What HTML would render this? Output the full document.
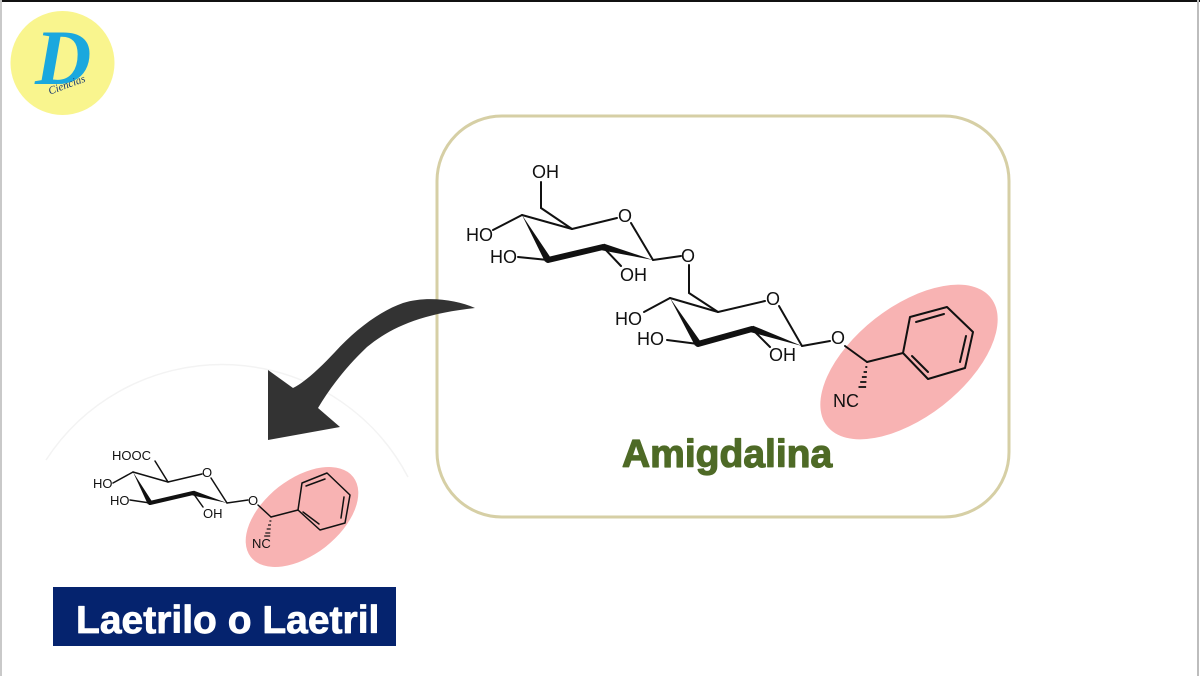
<!DOCTYPE html>
<html><head><meta charset="utf-8"><style>
html,body{margin:0;padding:0;background:#fff;overflow:hidden;}
svg{display:block;}
text{font-family:"Liberation Sans",Arial,sans-serif;}
</style></head><body>
<svg width="1200" height="676" viewBox="0 0 1200 676" xmlns="http://www.w3.org/2000/svg">
<rect x="0" y="0" width="1200" height="676" fill="#fff"/>
<!-- frame lines -->
<rect x="0" y="0" width="1200" height="2" fill="#111"/>
<rect x="0" y="0" width="2" height="676" fill="#c9c9c9"/>
<rect x="1197" y="0" width="2" height="676" fill="#bdbdbd"/>

<!-- logo -->
<circle cx="62.5" cy="63" r="52" fill="#f9f58e"/>
<text x="35" y="84" font-style="italic" font-weight="bold" font-size="78" fill="#1aa8de" style="font-family:'Liberation Serif',serif">D</text>
<text x="68" y="88" text-anchor="middle" font-style="italic" font-size="11" fill="#1a3a6e" transform="rotate(-20 68 88)" style="font-family:'Liberation Serif',serif">Ciencias</text>

<!-- faint arc behind laetrile -->
<path d="M46,460 A210,210 0 0 1 408,477" fill="none" stroke="#f3f3f3" stroke-width="1.5"/>

<!-- Amygdalin box -->
<rect x="437" y="116" width="572" height="401" rx="65" ry="65" fill="#fff" stroke="#d6cfa5" stroke-width="3"/>

<!-- pink ellipses -->
<ellipse cx="909" cy="362" rx="104" ry="55" fill="#f8b3b3" transform="rotate(-38 909 362)"/>
<ellipse cx="302" cy="517" rx="65" ry="38" fill="#f8b3b3" transform="rotate(-38 302 517)"/>

<!-- Amygdalin molecule -->
<g stroke="#111" stroke-width="2" fill="none" stroke-linecap="round">
  <!-- sugar 1 -->
  <line x1="541" y1="182" x2="541" y2="208"/>
  <line x1="541" y1="208" x2="572" y2="229"/>
  <line x1="522" y1="215" x2="572" y2="229"/>
  <line x1="572" y1="229" x2="617" y2="218"/>
  <line x1="631" y1="223" x2="653" y2="260"/>
  <line x1="493" y1="230" x2="522" y2="215"/>
  <line x1="518" y1="257" x2="548" y2="260"/>
  <line x1="603" y1="247" x2="621" y2="266"/>
  <line x1="653" y1="260" x2="681" y2="256"/>
  <line x1="689" y1="265" x2="689" y2="293"/>
  <line x1="689" y1="293" x2="718" y2="312"/>
  <!-- sugar 2 -->
  <line x1="670" y1="298" x2="718" y2="312"/>
  <line x1="718" y1="312" x2="765" y2="301"/>
  <line x1="779" y1="306" x2="802" y2="346"/>
  <line x1="644" y1="312" x2="670" y2="298"/>
  <line x1="667" y1="340" x2="698" y2="344"/>
  <line x1="752" y1="329" x2="770" y2="347"/>
  <line x1="802" y1="346" x2="830" y2="341"/>
  <!-- aglycone -->
  <line x1="845" y1="346" x2="867" y2="362"/>
  <line x1="867" y1="362" x2="903" y2="353"/>
  <polygon points="903,353 910,317 947,307 973,332 965,368 928,379" stroke-linejoin="round"/>
  <line x1="916" y1="322" x2="944" y2="314"/>
  <line x1="966" y1="336" x2="960" y2="362"/>
  <line x1="912" y1="356" x2="928" y2="372"/>
</g>
<g stroke="#111" stroke-width="6" stroke-linecap="round">
  <line x1="548" y1="260" x2="603" y2="247"/>
  <line x1="698" y1="344" x2="752" y2="329"/>
</g>
<g fill="#111">
  <polygon points="522,215 545,261.8 551,258.2"/>
  <polygon points="653,260 603.9,243.6 602.1,250.4"/>
  <polygon points="670,298 695,345.8 701,342.2"/>
  <polygon points="802,346 753.1,325.7 750.9,332.3"/>
</g>
<g stroke="#111" stroke-width="1.8">
  <line x1="865.3" y1="367" x2="867.3" y2="367"/>
  <line x1="863.6" y1="372" x2="867" y2="372"/>
  <line x1="861.9" y1="377" x2="866.7" y2="377"/>
  <line x1="860.2" y1="382" x2="866.4" y2="382"/>
  <line x1="858.5" y1="387" x2="866.1" y2="387"/>
</g>
<g font-size="18" fill="#111">
  <text x="532" y="178">OH</text>
  <text x="466" y="241">HO</text>
  <text x="490" y="263">HO</text>
  <text x="620" y="281">OH</text>
  <text x="625" y="222" text-anchor="middle">O</text>
  <text x="688" y="262" text-anchor="middle">O</text>
  <text x="773" y="305" text-anchor="middle">O</text>
  <text x="615" y="325">HO</text>
  <text x="637" y="345">HO</text>
  <text x="769" y="361">OH</text>
  <text x="838" y="344" text-anchor="middle">O</text>
  <text x="833" y="407">NC</text>
</g>

<text x="622" y="467" font-size="39" font-weight="bold" fill="#4e6a26" stroke="#4e6a26" stroke-width="1.2" stroke-linejoin="round">Amigdalina</text>

<!-- Arrow -->
<path d="M475,308 C455,299 425,296 403,303 C380,311 355,330 335,352 C320,368 305,382 293,388 L268,370 L268,440 L340,427 L318,408 C330,388 345,368 367,347 C390,328 420,314 475,308 Z" fill="#333"/>

<!-- Laetrile molecule -->
<g stroke="#111" stroke-width="1.5" fill="none" stroke-linecap="round">
  <line x1="155" y1="461" x2="168" y2="482"/>
  <line x1="133" y1="472" x2="168" y2="482"/>
  <line x1="168" y1="482" x2="202" y2="474"/>
  <line x1="211" y1="478" x2="227" y2="503"/>
  <line x1="113" y1="483" x2="133" y2="472"/>
  <line x1="130" y1="500" x2="150" y2="503"/>
  <line x1="193" y1="493" x2="203" y2="507"/>
  <line x1="227" y1="503" x2="248" y2="500"/>
  <line x1="258" y1="505" x2="271" y2="517"/>
  <line x1="271" y1="517" x2="298" y2="510"/>
  <polygon points="298,510 302,483 327,473 350,495 345,523 320,530" stroke-linejoin="round"/>
  <line x1="306" y1="486" x2="325" y2="479"/>
  <line x1="344" y1="497" x2="341" y2="518"/>
  <line x1="303" y1="512" x2="319" y2="524"/>
</g>
<line x1="150" y1="503" x2="193" y2="493" stroke="#111" stroke-width="4" stroke-linecap="round"/>
<g fill="#111">
  <polygon points="133,472 147.8,504.2 152.2,501.8"/>
  <polygon points="227,503 193.7,490.6 192.3,495.4"/>
</g>
<g stroke="#111" stroke-width="1.2">
  <line x1="269.4" y1="521" x2="271.4" y2="521"/>
  <line x1="268" y1="525" x2="271" y2="525"/>
  <line x1="266.7" y1="529" x2="270.7" y2="529"/>
  <line x1="265.3" y1="533" x2="270.3" y2="533"/>
  <line x1="264.2" y1="536" x2="270.2" y2="536"/>
</g>
<g font-size="13" fill="#111">
  <text x="112" y="460">HOOC</text>
  <text x="207" y="477" text-anchor="middle">O</text>
  <text x="93" y="488">HO</text>
  <text x="110" y="505">HO</text>
  <text x="203" y="518">OH</text>
  <text x="253" y="505" text-anchor="middle">O</text>
  <text x="252" y="548">NC</text>
</g>

<!-- Laetrile label -->
<rect x="53" y="587" width="343" height="59" fill="#05236e"/>
<text x="76" y="633" font-size="39" font-weight="bold" fill="#fff" stroke="#fff" stroke-width="0.8" stroke-linejoin="round">Laetrilo o Laetril</text>
</svg>
</body></html>
